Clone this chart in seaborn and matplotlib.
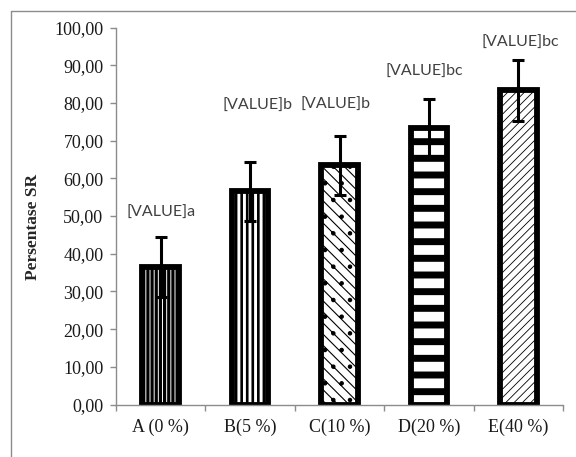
import matplotlib
matplotlib.use("Agg")
import matplotlib.pyplot as plt
from matplotlib.lines import Line2D
import seaborn as sns
import pandas as pd

# --- data ---------------------------------------------------------------
categories = ["A (0 %)", "B(5 %)", "C(10 %)", "D(20 %)", "E(40 %)"]
sr_values = [36.5, 56.6, 63.5, 73.3, 83.3]
sr_errors = [7.9, 7.8, 7.8, 7.8, 8.0]
label_texts = ["[VALUE]a", "[VALUE]b", "[VALUE]b", "[VALUE]bc", "[VALUE]bc"]
label_x = [0.0, 1.08, 1.95, 2.95, 4.02]
label_y = [50.8, 79.1, 79.4, 88.3, 95.9]
y_ticks = [0, 10, 20, 30, 40, 50, 60, 70, 80, 90, 100]
y_tick_labels = ["0,00", "10,00", "20,00", "30,00", "40,00", "50,00",
                 "60,00", "70,00", "80,00", "90,00", "100,00"]

df = pd.DataFrame({"Perlakuan": categories, "SR": sr_values})

sns.set_style("white")
plt.rcParams["font.family"] = ["Liberation Serif", "DejaVu Serif"]

fig = plt.figure(figsize=(5.76, 4.57), dpi=100)
ax = fig.add_axes([116 / 576, (457 - 404.5) / 457, 447 / 576, 377 / 457])

sns.barplot(data=df, x="Perlakuan", y="SR", ax=ax, color="white",
            edgecolor="black", linewidth=4.2, width=0.41, errorbar=None,
            saturation=1)

# fill patterns for each treatment
hatches = ["||||", "|||", "\\\\\\.", "-", "////"]
hatch_lw = [2.3, 1.9, 0.8, 5.0, 0.6]
for patch, h, hl in zip(ax.patches, hatches, hatch_lw):
    patch.set_hatch(h)
    patch.set_facecolor("white")
    patch.set_edgecolor("black")
    if hasattr(patch, "set_hatch_linewidth"):
        patch.set_hatch_linewidth(hl)

ax.errorbar(range(len(categories)), sr_values, yerr=sr_errors, fmt="none",
            ecolor="black", elinewidth=2.2, capsize=4.5, capthick=2.2,
            zorder=5)

for x, y, t in zip(label_x, label_y, label_texts):
    ax.text(x, y, t, ha="center", va="center", fontsize=11.5,
            family=["Lato", "DejaVu Sans"], color="#404040")

ax.set_xlim(-0.5, 4.5)
ax.set_ylim(0, 100)
ax.set_yticks(y_ticks)
ax.set_yticklabels(y_tick_labels)
ax.set_xticks(range(len(categories)))
ax.set_xticklabels(categories)
ax.set_xticks([i - 0.5 for i in range(len(categories) + 1)], minor=True)

grey = "#8c8c8c"
for side in ["top", "right"]:
    ax.spines[side].set_visible(False)
for side in ["left", "bottom"]:
    ax.spines[side].set_color(grey)
    ax.spines[side].set_linewidth(1.0)

ax.tick_params(axis="y", which="major", direction="out", length=4,
               width=1, color=grey, labelsize=13, pad=5, labelcolor="#1a1a1a",
               left=True)
ax.tick_params(axis="x", which="major", length=0, labelsize=13, pad=10,
               labelcolor="#1a1a1a")
ax.tick_params(axis="x", which="minor", direction="out", length=4, width=1,
               color=grey, bottom=True)

ax.set_xlabel("")
ax.set_ylabel("Persentase SR", fontsize=12.5, fontweight="bold", va="center")
ax.yaxis.set_label_coords(-0.186, 0.47)

# chart area frame (top and left edges)
fig.add_artist(Line2D([10.5 / 576, 10.5 / 576], [0, 1 - 11 / 457],
                      transform=fig.transFigure, color=grey, lw=1))
fig.add_artist(Line2D([10.5 / 576, 1], [1 - 11 / 457, 1 - 11 / 457],
                      transform=fig.transFigure, color=grey, lw=1))

fig.savefig("out.png", dpi=100)
